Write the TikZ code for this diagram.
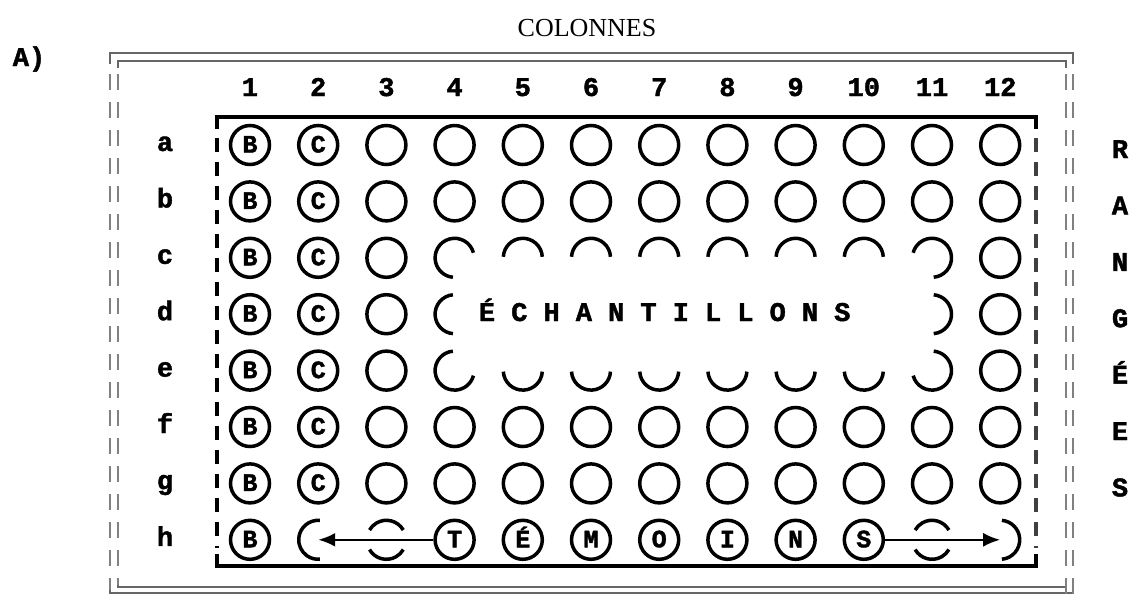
\documentclass[tikz,border=0pt]{standalone}
\usepackage{fontspec}
\setmainfont{Liberation Serif}
\newfontfamily\twfont{Liberation Mono}[FakeBold=1.6]
\usetikzlibrary{arrows.meta}
\newcommand\wellarc[4]{\draw[arcst] ({250+68.2*(#1-1)},{145+56.4*(#2-1)}) ++({-(#3)}:19.5) arc[start angle={-(#3)},end angle={-(#4)},radius=19.5];}
\begin{document}
\begin{tikzpicture}[x=1pt,y=-1pt,
  well/.style={circle,draw,line width=3.5pt,minimum size=39pt,inner sep=0pt,
    text height=15pt,text depth=0pt,font=\twfont\bfseries\fontsize{25}{25}\selectfont},
  arcst/.style={line width=3.5pt},
  lbl/.style={inner sep=0pt,text height=16pt,text depth=0pt,font=\twfont\bfseries\fontsize{27}{27}\selectfont},
  frameline/.style={draw=black!60,line width=1.8pt},
  framedash/.style={draw=black!50,line width=2pt,dash pattern=on 16pt off 12pt},
  arr/.style={line width=2.6pt,-{Latex[length=17pt,width=14pt]}}
]
\useasboundingbox (0,0) rectangle (1131,597);
% title and labels
\node[font=\fontsize{26}{26}\selectfont,inner sep=0pt] (title) at (587,28) {COLONNES};
\node[lbl] (lA) at (29,58) {A)};
% outer double frame
\draw[frameline] (110,64) -- (110,53) -- (1073,53) -- (1073,64);
\draw[frameline] (118,68) -- (118,61) -- (1066,61) -- (1066,68);
\draw[frameline] (118,578) -- (118,587) -- (1066,587);
\draw[frameline] (110,582) -- (110,593) -- (1073,593);
\draw[framedash] (110,74) -- (110,590);
\draw[framedash] (118,74) -- (118,585);
\draw[framedash] (1066,74) -- (1066,597);
\draw[framedash] (1073,74) -- (1073,597);
% inner frame
\draw[line width=4pt] (217,129) -- (217,117) -- (1036,117) -- (1036,129);
\draw[line width=4pt] (217,554) -- (217,566) -- (1036,566) -- (1036,554);
\draw[line width=4.5pt,dash pattern=on 14pt off 10pt] (217,138) -- (217,548);
\draw[line width=4pt,black!75,dash pattern=on 14pt off 10pt] (1036,138) -- (1036,548);
% column numbers
\foreach \c in {1,...,12} \node[lbl] (n\c) at ({250+68.2*(\c-1)},88) {\c};
% row letters
\foreach \l [count=\r] in {a,b,c,d,e,f,g,h} \node[lbl] (r\r) at (165,{143+56.4*(\r-1)}) {\l};
% right letters
\foreach \l [count=\i] in {R,A,N,G,É,E,S} \node[lbl] (rl\i) at (1120,{150+56.4*(\i-1)}) {\l};
% wells
\foreach \r in {1,...,8} \node[well] (w\r-1) at (250,{145+56.4*(\r-1)}) {B};
\foreach \r in {1,...,7} \node[well] (w\r-2) at ({250+68.2},{145+56.4*(\r-1)}) {C};
\foreach \r in {1,2,6,7} \foreach \c in {3,...,12}
  \node[well] (w\r-\c) at ({250+68.2*(\c-1)},{145+56.4*(\r-1)}) {};
\foreach \r in {3,4,5} \foreach \c in {3,12}
  \node[well] (w\r-\c) at ({250+68.2*(\c-1)},{145+56.4*(\r-1)}) {};
\foreach \c/\t in {4/T,5/É,6/M,7/O,8/I,9/N,10/S}
  \node[well] (w8-\c) at ({250+68.2*(\c-1)},{145+56.4*7}) {\t};
% broken wells around ECHANTILLONS
\wellarc{4}{3}{15}{265}
\foreach \c in {5,...,10} {\wellarc{\c}{3}{3}{177}}
\wellarc{11}{3}{-85}{165}
\wellarc{4}{4}{95}{265}
\wellarc{11}{4}{-85}{85}
\wellarc{4}{5}{95}{345}
\foreach \c in {5,...,10} {\wellarc{\c}{5}{183}{357}}
\wellarc{11}{5}{-165}{85}
% sample text
\foreach \ch [count=\i from 0] in {É,C,H,A,N,T,I,L,L,O,N,S}
  \node[lbl] (e\i) at ({487+32.3*\i},313) {\ch};
% row h broken wells
\wellarc{2}{8}{85}{275}
\wellarc{3}{8}{30}{150}
\wellarc{3}{8}{210}{330}
\wellarc{11}{8}{30}{150}
\wellarc{11}{8}{210}{330}
\wellarc{12}{8}{-85}{85}
\coordinate (t2) at ({250+68.2},{145+56.4*7});
\coordinate (t12) at ({250+68.2*11},{145+56.4*7});
\draw[arr] (w8-4.west) -- (t2);
\draw[arr] (w8-10.east) -- (t12);
\end{tikzpicture}
\end{document}
